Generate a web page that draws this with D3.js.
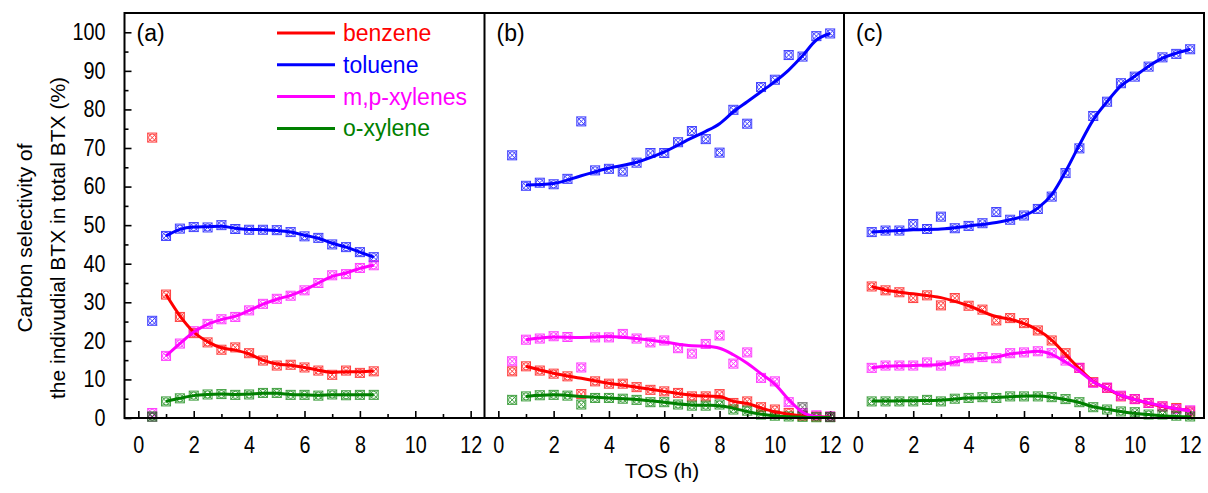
<!DOCTYPE html>
<html>
<head>
<meta charset="utf-8">
<script src="https://cdn.jsdelivr.net/npm/d3@7"></script>
<style>
  body { margin: 0; background: #fff; }
  text { font-family: "Liberation Sans", Arial, sans-serif; }
</style>
</head>
<body>
<div id="chart"></div>
<script>
// series names + colours
var seriesNames = ["benzene", "toluene", "m,p-xylenes", "o-xylene"];
var seriesColors = ["#ff0000", "#0000ff", "#ff00ff", "#008000"];

// ---- panel (a) measured points ----
var aX = [0.5, 1, 1.5, 2, 2.5, 3, 3.5, 4, 4.5, 5, 5.5, 6, 6.5, 7, 7.5, 8, 8.5];
var aBenzene = [72.7, 32.0, 26.2, 22.0, 19.6, 17.7, 18.3, 16.8, 14.9, 13.6, 13.8, 13.1, 12.3, 11.2, 12.3, 11.7, 12.1];
var aToluene = [25.2, 47.2, 49.1, 49.5, 49.4, 50.0, 49.0, 48.8, 48.8, 48.7, 48.2, 47.1, 46.7, 45.0, 44.3, 43.0, 41.7];
var aMpXylene = [1.3, 16.1, 19.3, 22.5, 24.4, 25.6, 26.2, 27.9, 29.6, 30.9, 31.7, 33.1, 35.0, 37.0, 37.3, 38.9, 39.6];
var aOXylene = [0.4, 4.3, 5.1, 5.8, 6.1, 6.2, 6.0, 6.1, 6.5, 6.5, 6.0, 6.0, 5.8, 6.1, 5.9, 6.0, 6.0];
var aOtherX = [0.5];
var aOther = [0.3];
// panel (a) fitted lines
var aLineX = [1, 1.5, 2, 2.5, 3, 3.5, 4, 4.5, 5, 5.5, 6, 6.5, 7, 7.5, 8, 8.5];
var aBenzeneLine = [32.0, 26.5, 22.3, 19.8, 18.2, 17.6, 16.6, 15.0, 14.0, 13.7, 13.1, 12.4, 11.8, 12.0, 12.0, 12.2];
var aTolueneLine = [47.2, 48.9, 49.5, 49.6, 49.7, 49.2, 48.9, 48.8, 48.6, 48.2, 47.4, 46.6, 45.3, 44.3, 43.0, 41.7];
var aMpXyleneLine = [16.1, 19.3, 22.3, 24.3, 25.5, 26.4, 27.9, 29.5, 30.8, 31.8, 33.2, 35.0, 36.7, 37.6, 38.8, 39.6];
var aOXyleneLine = [4.3, 5.1, 5.8, 6.1, 6.2, 6.1, 6.2, 6.4, 6.4, 6.1, 6.0, 5.9, 6.0, 6.0, 6.0, 6.0];

// ---- panel (b) measured points ----
var bX = [0.5, 1, 1.5, 2, 2.5, 3, 3.5, 4, 4.5, 5, 5.5, 6, 6.5, 7, 7.5, 8, 8.5, 9, 9.5, 10, 10.5, 11, 11.5, 12];
var bBenzene = [12.1, 13.4, 12.3, 11.5, 10.8, 6.2, 9.5, 8.9, 8.9, 8.0, 7.3, 6.9, 6.5, 5.6, 5.6, 6.2, 3.9, 4.3, 2.8, 2.2, 1.3, 0.6, 0.4, 0.3];
var bToluene = [68.1, 60.2, 61.0, 60.6, 62.0, 76.9, 64.2, 64.6, 63.9, 66.2, 68.7, 68.7, 71.5, 74.4, 72.3, 68.8, 79.9, 76.3, 85.8, 87.7, 94.1, 93.7, 99.0, 99.7];
var bMpXylene = [14.7, 20.3, 20.6, 21.2, 21.0, 13.1, 20.9, 20.9, 21.8, 20.6, 19.6, 20.1, 18.1, 16.7, 19.2, 21.4, 14.1, 17.0, 10.4, 9.5, 4.1, 1.3, 0.7, 0.4];
var bOXylene = [4.7, 5.6, 5.9, 6.0, 5.8, 3.5, 5.2, 5.2, 5.0, 4.7, 4.1, 4.1, 3.5, 3.2, 3.2, 3.5, 2.2, 1.9, 0.9, 0.6, 0.4, 0.3, 0.2, 0.2];
var bOtherX = [11, 12];
var bOther = [2.8, 0.3];
// panel (b) fitted lines
var bLineX = [1, 2, 3, 4, 5, 6, 7, 7.5, 8, 8.5, 9, 9.5, 10, 10.5, 11, 11.5, 12];
var bBenzeneLine = [13.4, 11.6, 10.3, 9.0, 8.0, 6.9, 5.9, 5.7, 5.6, 4.3, 3.8, 2.6, 1.6, 1.0, 0.5, 0.3, 0.2];
var bTolueneLine = [60.4, 60.8, 62.8, 64.8, 66.3, 69.0, 72.6, 74.3, 76.3, 79.4, 82.0, 84.6, 87.2, 90.2, 93.9, 98.0, 99.7];
var bMpXyleneLine = [20.3, 21.0, 20.9, 21.1, 20.6, 19.7, 18.7, 18.6, 18.1, 16.4, 14.2, 11.5, 8.8, 4.8, 1.5, 0.4, 0.2];
var bOXyleneLine = [5.6, 6.0, 5.6, 5.2, 4.8, 4.1, 3.4, 3.3, 3.2, 2.5, 1.7, 1.0, 0.5, 0.3, 0.2, 0.1, 0.1];

// ---- panel (c) measured points ----
var cX = [0.5, 1, 1.5, 2, 2.5, 3, 3.5, 4, 4.5, 5, 5.5, 6, 6.5, 7, 7.5, 8, 8.5, 9, 9.5, 10, 10.5, 11, 11.5, 12];
var cBenzene = [34.1, 33.1, 32.6, 31.1, 31.8, 29.2, 31.1, 29.1, 28.1, 25.3, 25.9, 24.6, 22.7, 20.1, 16.8, 13.0, 9.3, 7.8, 5.6, 4.9, 3.9, 3.0, 2.6, 1.7];
var cToluene = [48.2, 48.6, 48.6, 50.3, 49.0, 52.2, 49.2, 49.8, 50.5, 53.4, 51.4, 52.5, 54.2, 57.4, 63.5, 69.9, 78.3, 82.0, 86.8, 88.5, 91.1, 93.5, 94.4, 95.6];
var cMpXylene = [13.0, 13.6, 13.6, 13.6, 14.4, 13.6, 14.7, 15.5, 15.8, 15.5, 16.8, 17.0, 17.3, 16.8, 14.9, 13.0, 9.1, 7.9, 5.8, 4.9, 3.9, 3.0, 2.3, 2.0];
var cOXylene = [4.3, 4.3, 4.3, 4.3, 4.7, 4.3, 5.0, 5.2, 5.4, 5.2, 5.6, 5.6, 5.6, 5.4, 4.9, 4.1, 2.8, 2.2, 1.7, 1.5, 0.9, 0.9, 0.6, 0.4];
// panel (c) fitted lines
var cLineX = [0.5, 1, 2, 3, 4, 5, 5.5, 6, 6.5, 7, 7.5, 8, 8.5, 9, 9.5, 10, 10.5, 11, 11.5, 12];
var cBenzeneLine = [34.1, 33.2, 32.2, 31.2, 29.1, 26.3, 25.6, 24.5, 22.8, 20.2, 16.5, 12.8, 9.5, 7.6, 5.8, 4.8, 3.8, 3.0, 2.4, 1.9];
var cTolueneLine = [48.2, 48.4, 48.8, 49.0, 49.8, 50.7, 51.4, 52.4, 54.4, 57.9, 63.9, 70.8, 77.3, 82.0, 86.1, 88.6, 91.2, 93.3, 94.6, 95.6];
var cMpXyleneLine = [13.0, 13.4, 13.6, 13.9, 15.2, 15.8, 16.6, 17.0, 17.3, 16.5, 14.5, 12.2, 9.4, 7.7, 5.9, 4.8, 3.9, 3.1, 2.4, 1.9];
var cOXyleneLine = [4.4, 4.4, 4.5, 4.6, 5.2, 5.3, 5.5, 5.7, 5.7, 5.4, 4.8, 4.0, 2.9, 2.3, 1.7, 1.2, 0.9, 0.6, 0.4, 0.3];

var xMajorTicks = [0, 2, 4, 6, 8, 10, 12];
var xMinorTicks = [1, 3, 5, 7, 9, 11];
var yMajorTicks = [0, 10, 20, 30, 40, 50, 60, 70, 80, 90, 100];
var yMinorTicks = [5, 15, 25, 35, 45, 55, 65, 75, 85, 95];

var panelsData = [
  { label: "(a)", x: aX, pts: [aBenzene, aToluene, aMpXylene, aOXylene], otherX: aOtherX, other: aOther,
    lx: aLineX, lines: [aBenzeneLine, aTolueneLine, aMpXyleneLine, aOXyleneLine] },
  { label: "(b)", x: bX, pts: [bBenzene, bToluene, bMpXylene, bOXylene], otherX: bOtherX, other: bOther,
    lx: bLineX, lines: [bBenzeneLine, bTolueneLine, bMpXyleneLine, bOXyleneLine] },
  { label: "(c)", x: cX, pts: [cBenzene, cToluene, cMpXylene, cOXylene], otherX: [], other: [],
    lx: cLineX, lines: [cBenzeneLine, cTolueneLine, cMpXyleneLine, cOXyleneLine] }
];

// layout
var svgWidth = 1208;
var svgHeight = 493;
var plotTop = 13;
var plotBottom = 418;
var panelEdges = [124.5, 484.5, 844, 1204];
var tickFont = 23;
var squeeze = 0.86; // tick digits in the original look narrow

var svg = d3.select("#chart").append("svg")
  .attr("width", svgWidth)
  .attr("height", svgHeight);

var yScale = d3.scaleLinear().domain([0, 105]).range([plotBottom, plotTop]);

// marker: square with X and circle
function drawMarker(g, cx, cy, color) {
  var s = 4.5;
  var m = g.append("g").attr("transform", "translate(" + cx + "," + cy + ")")
    .attr("fill", "none").attr("stroke", color).attr("stroke-width", 1).attr("opacity", 0.75);
  m.append("rect").attr("x", -s).attr("y", -s).attr("width", 2 * s).attr("height", 2 * s);
  m.append("line").attr("x1", -s).attr("y1", -s).attr("x2", s).attr("y2", s);
  m.append("line").attr("x1", -s).attr("y1", s).attr("x2", s).attr("y2", -s);
  m.append("circle").attr("r", 3.6);
}

panelsData.forEach(function (p, i) {
  var xScale = d3.scaleLinear().domain([-0.5, 12.5]).range([panelEdges[i], panelEdges[i + 1]]);
  var g = svg.append("g");

  // x axis major
  var xAx = g.append("g")
    .attr("transform", "translate(0," + plotBottom + ")")
    .call(d3.axisBottom(xScale).tickValues(xMajorTicks).tickSizeInner(-7).tickSizeOuter(0).tickPadding(19));
  xAx.select(".domain").remove();
  xAx.selectAll("line").attr("stroke", "#000").attr("stroke-width", 1.6);
  xAx.selectAll("text").attr("font-size", tickFont).attr("fill", "#000")
    .attr("transform", "scale(" + squeeze + ",1)")
    .style("font-family", "'Liberation Sans', Arial, sans-serif");

  // x axis minor
  var xMin = g.append("g")
    .attr("transform", "translate(0," + plotBottom + ")")
    .call(d3.axisBottom(xScale).tickValues(xMinorTicks).tickSizeInner(-4).tickSizeOuter(0).tickFormat(""));
  xMin.select(".domain").remove();
  xMin.selectAll("line").attr("stroke", "#000").attr("stroke-width", 1.6);

  // markers
  p.pts.forEach(function (vals, k) {
    vals.forEach(function (v, j) {
      drawMarker(g, xScale(p.x[j]), yScale(v), seriesColors[k]);
    });
  });
  p.other.forEach(function (v, j) {
    drawMarker(g, xScale(p.otherX[j]), yScale(v), "#444");
  });

  // fitted lines
  var line = d3.line()
    .x(function (d) { return xScale(d[0]); })
    .y(function (d) { return yScale(d[1]); })
    .curve(d3.curveMonotoneX);
  p.lines.forEach(function (vals, k) {
    g.append("path")
      .datum(vals.map(function (v, j) { return [p.lx[j], v]; }))
      .attr("d", line)
      .attr("fill", "none")
      .attr("stroke", seriesColors[k])
      .attr("stroke-width", 3);
  });

  // panel label
  g.append("text")
    .attr("x", panelEdges[i] + 12)
    .attr("y", 33)
    .attr("dy", "0.35em")
    .attr("font-size", 23)
    .text(p.label);
});

// y axis on first panel
var y0 = panelEdges[0];
var yAx = svg.append("g")
  .attr("transform", "translate(" + y0 + ",0)")
  .call(d3.axisLeft(yScale).tickValues(yMajorTicks).tickSizeInner(-7).tickSizeOuter(0).tickPadding(22));
yAx.select(".domain").remove();
yAx.selectAll("line").attr("stroke", "#000").attr("stroke-width", 1.6);
yAx.selectAll("text").attr("font-size", tickFont).attr("fill", "#000")
  .attr("transform", "scale(" + squeeze + ",1)")
  .style("font-family", "'Liberation Sans', Arial, sans-serif");
var yMin = svg.append("g")
  .attr("transform", "translate(" + y0 + ",0)")
  .call(d3.axisLeft(yScale).tickValues(yMinorTicks).tickSizeInner(-4).tickSizeOuter(0).tickFormat(""));
yMin.select(".domain").remove();
yMin.selectAll("line").attr("stroke", "#000").attr("stroke-width", 1.6);

// frame + dividers
svg.append("rect")
  .attr("x", panelEdges[0]).attr("y", plotTop)
  .attr("width", panelEdges[3] - panelEdges[0]).attr("height", plotBottom - plotTop)
  .attr("fill", "none").attr("stroke", "#000").attr("stroke-width", 2);
[panelEdges[1], panelEdges[2]].forEach(function (xp) {
  svg.append("line").attr("x1", xp).attr("x2", xp).attr("y1", plotTop).attr("y2", plotBottom)
    .attr("stroke", "#000").attr("stroke-width", 2);
});

// legend
var legend = svg.append("g");
seriesNames.forEach(function (name, k) {
  var ly = 33 + k * 31.8;
  legend.append("line").attr("x1", 277).attr("x2", 335).attr("y1", ly).attr("y2", ly)
    .attr("stroke", seriesColors[k]).attr("stroke-width", 3);
  legend.append("text").attr("x", 343).attr("y", ly).attr("dy", "0.35em")
    .attr("font-size", 23).attr("fill", seriesColors[k]).text(name);
});

// axis titles
svg.append("text")
  .attr("transform", "translate(32,238) rotate(-90)")
  .attr("text-anchor", "middle").attr("font-size", 21)
  .text("Carbon selectivity of");
svg.append("text")
  .attr("transform", "translate(65,238) rotate(-90)")
  .attr("text-anchor", "middle").attr("font-size", 21)
  .text("the indivudial BTX in total BTX (%)");
svg.append("text")
  .attr("x", 662).attr("y", 478)
  .attr("text-anchor", "middle").attr("font-size", 21)
  .text("TOS (h)");
</script>
</body>
</html>
